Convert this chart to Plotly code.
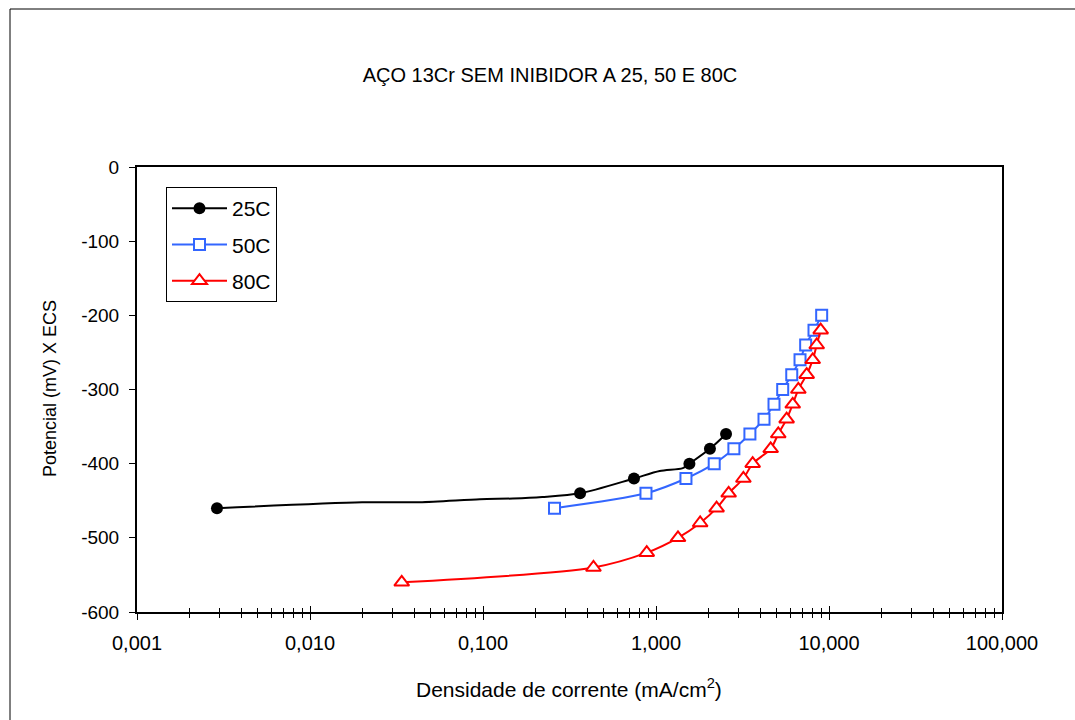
import plotly.graph_objects as go

# ---- data ----
x25 = [0.0029, 0.020, 0.043, 0.096, 0.149, 0.22, 0.364, 0.746, 1.05, 1.43, 1.56, 2.05, 2.54]
y25 = [-460, -452, -452, -448, -447, -445, -440, -420, -410, -406, -400, -380, -360]
marked25 = [1, 0, 0, 0, 0, 0, 1, 1, 0, 0, 1, 1, 1]

x50 = [0.259, 0.875, 1.49, 2.17, 2.82, 3.49, 4.21, 4.81, 5.40, 6.09, 6.80, 7.33, 8.19, 9.07]
y50 = [-460, -440, -420, -400, -380, -360, -340, -320, -300, -280, -260, -240, -220, -200]

x80 = [0.0339, 0.435, 0.884, 1.34, 1.80, 2.24, 2.63, 3.20, 3.62, 4.60, 5.09, 5.69, 6.17,
       6.65, 7.43, 8.05, 8.49, 8.95]
y80 = [-560, -540, -520, -500, -480, -460, -440, -420, -400, -380, -360, -340, -320,
       -300, -280, -260, -240, -220]

xtick_vals = [0.001, 0.01, 0.1, 1, 10, 100]
xtick_text = ["0,001", "0,010", "0,100", "1,000", "10,000", "100,000"]
ytick_vals = [-600, -500, -400, -300, -200, -100, 0]
ytick_text = ["-600", "-500", "-400", "-300", "-200", "-100", "0"]
minor_vals = [m * 10.0 ** k for k in range(-3, 2) for m in range(2, 10)]

title = "AÇO 13Cr SEM INIBIDOR A 25, 50 E 80C"
xtitle = "Densidade de corrente (mA/cm<sup>2</sup>)"
ytitle = "Potencial (mV) X ECS"

FONT = "Liberation Sans, Arial, sans-serif"
BLUE = "#3366FF"
RED = "#FF0000"

fig = go.Figure()

# 25C: smoothed line through all points, markers on the marked ones only
mx25 = [x for x, m in zip(x25, marked25) if m]
my25 = [y for y, m in zip(y25, marked25) if m]
fig.add_trace(go.Scatter(
    x=x25, y=y25, mode="lines", showlegend=False, hoverinfo="skip",
    line=dict(color="black", width=2, shape="spline", smoothing=0.8),
))
fig.add_trace(go.Scatter(
    x=mx25, y=my25, mode="markers", showlegend=False,
    marker=dict(symbol="circle", color="black", size=12, line=dict(width=0)),
))
# legend entry for 25C
fig.add_trace(go.Scatter(
    x=[None], y=[None], name="25C", mode="lines+markers", legendgroup="a",
    line=dict(color="black", width=2),
    marker=dict(symbol="circle", color="black", size=12, line=dict(width=0)),
))
fig.add_trace(go.Scatter(
    x=x50, y=y50, name="50C", mode="lines+markers", legendgroup="b",
    line=dict(color=BLUE, width=2, shape="spline", smoothing=0.8),
    marker=dict(symbol="square", color="white", size=11, line=dict(color=BLUE, width=2)),
))
fig.add_trace(go.Scatter(
    x=x80, y=y80, name="80C", mode="lines+markers", legendgroup="c",
    line=dict(color=RED, width=2, shape="spline", smoothing=0.8),
    marker=dict(symbol="triangle-up", color="white", size=13, line=dict(color=RED, width=2)),
))
# empty trace to carry the overlaid tick axis (inside half of crossing ticks)
fig.add_trace(go.Scatter(x=[], y=[], xaxis="x2", showlegend=False, hoverinfo="skip"))

L, R, T, B = 137, 73, 167, 108
W, H = 1075, 720
pw, ph = W - L - R, H - T - B

def px(xp):
    return (xp - L) / pw

def py(yp):
    return (H - B - yp) / ph

fig.update_layout(
    width=W, height=H, autosize=False,
    margin=dict(l=L, r=R, t=T, b=B, pad=0),
    paper_bgcolor="white", plot_bgcolor="white",
    font=dict(family=FONT, size=18, color="black"),
    title=dict(text=title, x=px(550), xref="paper", xanchor="center",
               y=1 - 75 / H, yref="container", yanchor="middle",
               font=dict(family=FONT, size=20, color="black")),
    showlegend=True,
    legend=dict(x=px(166), y=py(187), xanchor="left", yanchor="top",
                bordercolor="black", borderwidth=1, bgcolor="white",
                font=dict(family=FONT, size=21, color="black"),
                traceorder="grouped", tracegroupgap=6, itemwidth=55),
    xaxis=dict(type="log", range=[-3, 2], tickmode="array", tickvals=xtick_vals,
               ticktext=xtick_text, ticks="outside", ticklen=6, tickwidth=1, tickcolor="black",
               showline=True, linecolor="black", linewidth=2, mirror=True,
               showgrid=False, zeroline=False, ticklabelstandoff=6,
               minor=dict(tickmode="array", tickvals=minor_vals, ticks="outside",
                          ticklen=4, tickwidth=1, tickcolor="black", showgrid=False),
               tickfont=dict(family=FONT, size=20, color="black")),
    xaxis2=dict(type="log", range=[-3, 2], overlaying="x", anchor="y", side="bottom",
                tickmode="array", tickvals=xtick_vals, ticks="inside", ticklen=6,
                tickwidth=1, tickcolor="black", showticklabels=False, showline=False,
                showgrid=False, zeroline=False,
                minor=dict(tickmode="array", tickvals=minor_vals, ticks="inside",
                           ticklen=4, tickwidth=1, tickcolor="black", showgrid=False)),
    yaxis=dict(range=[-600, 0], tickmode="array", tickvals=ytick_vals, ticktext=ytick_text,
               ticks="outside", ticklen=6,
               tickwidth=1, tickcolor="black", showline=True, linecolor="black",
               linewidth=2, mirror=True, showgrid=False, zeroline=False,
               ticklabelstandoff=6,
               tickfont=dict(family=FONT, size=19, color="black")),
    annotations=[
        dict(text=xtitle, xref="paper", yref="paper", x=px(569), y=py(688),
             xanchor="center", yanchor="middle", showarrow=False,
             font=dict(family=FONT, size=21, color="black")),
        dict(text=ytitle, xref="paper", yref="paper", x=px(50), y=py(389),
             xanchor="center", yanchor="middle", showarrow=False, textangle=-90,
             font=dict(family=FONT, size=18, color="black")),
    ],
    shapes=[
        dict(type="rect", xref="paper", yref="paper", x0=px(10), y0=py(9),
             x1=px(1090), y1=py(730), line=dict(color="black", width=1),
             fillcolor="rgba(0,0,0,0)", layer="below"),
    ],
)

fig.write_html("out.html")
